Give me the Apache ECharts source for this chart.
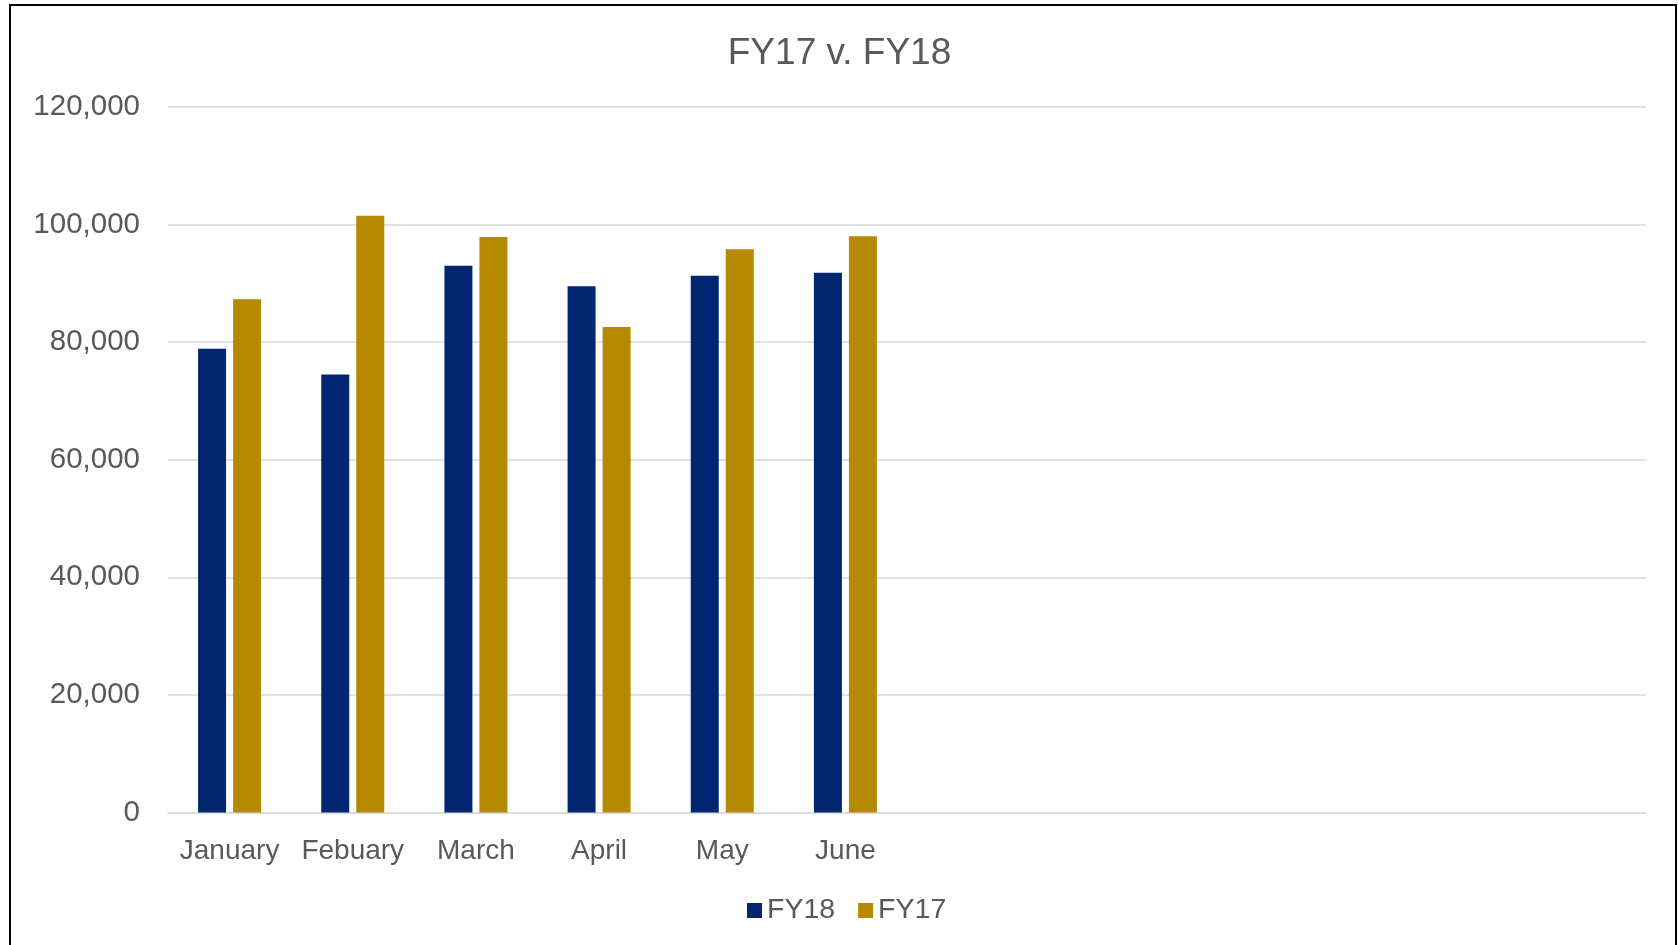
<!DOCTYPE html>
<html>
<head>
<meta charset="utf-8">
<script src="https://cdn.jsdelivr.net/npm/echarts@6/dist/echarts.min.js"></script>
<style>
html,body{margin:0;padding:0;background:#fff;}
#chart{width:1679px;height:945px;}
</style>
</head>
<body>
<div id="chart"></div>
<script>
const categories = ['January','Febuary','March','April','May','June','','','','','',''];
const fy18 = [78900, 74500, 93000, 89500, 91300, 91800, null, null, null, null, null, null];
const fy17 = [87300, 101500, 97900, 82600, 95800, 98000, null, null, null, null, null, null];
const yTicks = { min: 0, max: 120000, interval: 20000 };

const FONT = "'Liberation Sans', Arial, sans-serif";
const TEXT = '#595959';

const chart = echarts.init(document.getElementById('chart'));
chart.setOption({
  animation: false,
  backgroundColor: '#fff',
  title: {
    text: 'FY17 v. FY18',
    left: 'center',
    top: 30,
    textStyle: { fontFamily: FONT, fontSize: 37, fontWeight: 'normal', color: TEXT }
  },
  graphic: [{
    type: 'rect',
    shape: { x: 10, y: 5, width: 1666, height: 960 },
    style: { fill: 'none', stroke: '#000', lineWidth: 2 },
    silent: true
  }],
  legend: {
    data: ['FY18', 'FY17'],
    left: 742,
    top: 891,
    itemWidth: 15,
    itemHeight: 15,
    itemGap: 23,
    icon: 'rect',
    textStyle: { fontFamily: FONT, fontSize: 28.5, color: TEXT }
  },
  grid: { left: 168, right: 33, top: 107, bottom: 132.5, containLabel: false },
  xAxis: {
    type: 'category',
    data: categories,
    axisLine: { show: true, lineStyle: { color: '#D9D9D9', width: 1.5 } },
    axisTick: { show: false },
    axisLabel: { fontFamily: FONT, fontSize: 28, color: TEXT, margin: 25, interval: 0 }
  },
  yAxis: {
    type: 'value',
    min: yTicks.min, max: yTicks.max, interval: yTicks.interval,
    axisLine: { show: false },
    axisTick: { show: false },
    splitLine: { lineStyle: { color: '#D9D9D9', width: 1.5 } },
    axisLabel: {
      fontFamily: FONT, fontSize: 29.5, color: TEXT, margin: 28,
      formatter: v => v.toLocaleString('en-US')
    }
  },
  series: [
    { name: 'FY18', type: 'bar', data: fy18, barWidth: 28, barGap: '25%',
      itemStyle: { color: '#002672' } },
    { name: 'FY17', type: 'bar', data: fy17, barWidth: 28, barGap: '25%',
      itemStyle: { color: '#B58900' } }
  ]
});
</script>
</body>
</html>
